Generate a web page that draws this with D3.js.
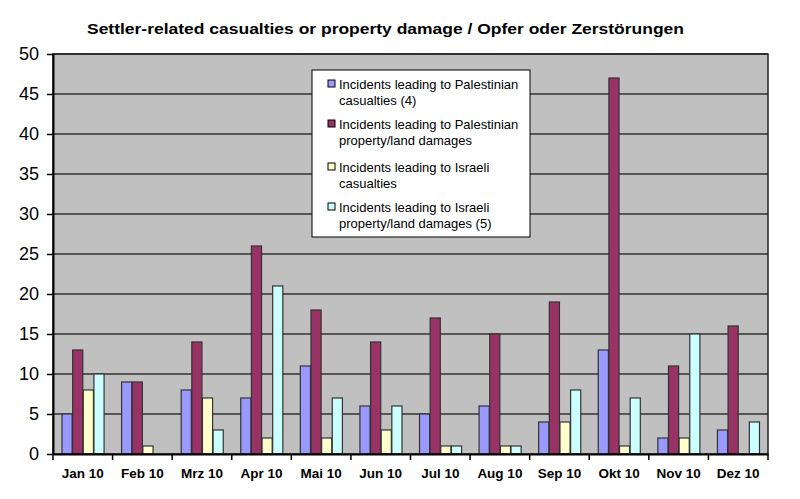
<!DOCTYPE html>
<html>
<head>
<meta charset="utf-8">
<script src="https://cdn.jsdelivr.net/npm/d3@7"></script>
<style>
html,body{margin:0;padding:0;background:#fff;}
svg{display:block;font-family:Arial,"Liberation Sans",sans-serif;}
</style>
</head>
<body>
<svg id="chart" width="800" height="499"></svg>
<script>
const months = ["Jan 10","Feb 10","Mrz 10","Apr 10","Mai 10","Jun 10","Jul 10","Aug 10","Sep 10","Okt 10","Nov 10","Dez 10"];
const seriesNames = [
  ["Incidents leading to Palestinian","casualties (4)"],
  ["Incidents leading to Palestinian","property/land damages"],
  ["Incidents leading to Israeli","casualties"],
  ["Incidents leading to Israeli","property/land damages (5)"]
];
const palCasualties = [5, 9, 8, 7, 11, 6, 5, 6, 4, 13, 2, 3];
const palProperty   = [13, 9, 14, 26, 18, 14, 17, 15, 19, 47, 11, 16];
const isrCasualties = [8, 1, 7, 2, 2, 3, 1, 1, 4, 1, 2, 0];
const isrProperty   = [10, 0, 3, 21, 7, 6, 1, 1, 8, 7, 15, 4];
const yTicks = [0,5,10,15,20,25,30,35,40,45,50];
const colors = ["#9999FF","#993366","#FFFFCC","#CCFFFF"];
const title = "Settler-related casualties or property damage / Opfer oder Zerstörungen";

const series = [palCasualties, palProperty, isrCasualties, isrProperty];
const svg = d3.select("#chart");
const L = 53, R = 768, T = 54, B = 454;

const x = d3.scaleBand().domain(months).range([L, R]).paddingInner(0).paddingOuter(0);
const inner = d3.scaleBand().domain(d3.range(4)).range([0, x.bandwidth()]).paddingInner(0).paddingOuter(0.8);
const y = d3.scaleLinear().domain([0, 50]).range([B, T]);

// title
svg.append("text").attr("x", 385.5).attr("y", 33.5).attr("text-anchor","middle")
  .attr("font-size", 15.5).attr("font-weight","bold").attr("fill","#000")
  .attr("textLength", 597).attr("lengthAdjust","spacingAndGlyphs").text(title);

// plot background
svg.append("rect").attr("x", L).attr("y", T).attr("width", R-L).attr("height", B-T)
  .attr("fill","#C0C0C0");

// gridlines
svg.append("g").selectAll("line").data(yTicks.filter(d => d > 0)).join("line")
  .attr("x1", L).attr("x2", R).attr("y1", d => y(d)).attr("y2", d => y(d))
  .attr("stroke","#333").attr("stroke-width",1.5);

// bars
const groups = svg.append("g").selectAll("g").data(series).join("g")
  .attr("fill", (d,i) => colors[i]);
groups.each(function(vals, si){
  d3.select(this).selectAll("rect").data(vals.map((v,mi)=>({v, m: months[mi]}))).join("rect")
    .attr("x", d => x(d.m) + inner(si) + 0.5)
    .attr("y", d => y(d.v))
    .attr("width", inner.bandwidth() - 0.5)
    .attr("height", d => B - y(d.v))
    .attr("stroke", d => d.v > 0 ? "#333" : "none")
    .attr("stroke-width", 1.2);
});

// plot border (top/right)
svg.append("rect").attr("x", L).attr("y", T).attr("width", R-L).attr("height", B-T)
  .attr("fill","none").attr("stroke","#222").attr("stroke-width",1.5);

// y axis
const yAxis = svg.append("g").attr("transform", `translate(${L},0)`)
  .call(d3.axisLeft(y).tickValues(yTicks).tickSize(6).tickPadding(8).tickSizeOuter(0));
yAxis.select(".domain").attr("stroke","#000").attr("stroke-width",2);
yAxis.selectAll(".tick line").attr("stroke","#000").attr("stroke-width",1.5);
yAxis.selectAll("text").attr("font-size",18).attr("font-family","Arial, 'Liberation Sans', sans-serif").attr("fill","#000");

// x axis
const xTickPos = months.map(m => x(m)).concat([R]);
const xAxis = svg.append("g").attr("transform", `translate(0,${B})`)
  .call(d3.axisBottom(x).tickSize(0).tickPadding(14).tickSizeOuter(0));
xAxis.select(".domain").attr("stroke","#000").attr("stroke-width",2);
xAxis.selectAll("text").attr("font-size",13.5).attr("font-weight","bold")
  .attr("font-family","Arial, 'Liberation Sans', sans-serif").attr("fill","#000");
svg.append("g").selectAll("line").data(xTickPos).join("line")
  .attr("x1", d => d).attr("x2", d => d).attr("y1", B).attr("y2", B + 6)
  .attr("stroke","#000").attr("stroke-width",1.5);

// legend
const lg = svg.append("g");
lg.append("rect").attr("x", 312).attr("y", 70).attr("width", 218).attr("height", 167)
  .attr("fill","#fff").attr("stroke","#000").attr("stroke-width",1);
const entryY = [84, 124, 167, 207];
seriesNames.forEach((nm, i) => {
  lg.append("rect").attr("x", 328).attr("y", entryY[i]-4).attr("width", 7).attr("height", 7)
    .attr("fill", colors[i]).attr("stroke","#000").attr("stroke-width",1);
  lg.append("text").attr("x", 339).attr("y", entryY[i]+5).attr("font-size",13).attr("fill","#000").text(nm[0]);
  lg.append("text").attr("x", 339).attr("y", entryY[i]+20.5).attr("font-size",13).attr("fill","#000").text(nm[1]);
});
</script>
</body>
</html>
